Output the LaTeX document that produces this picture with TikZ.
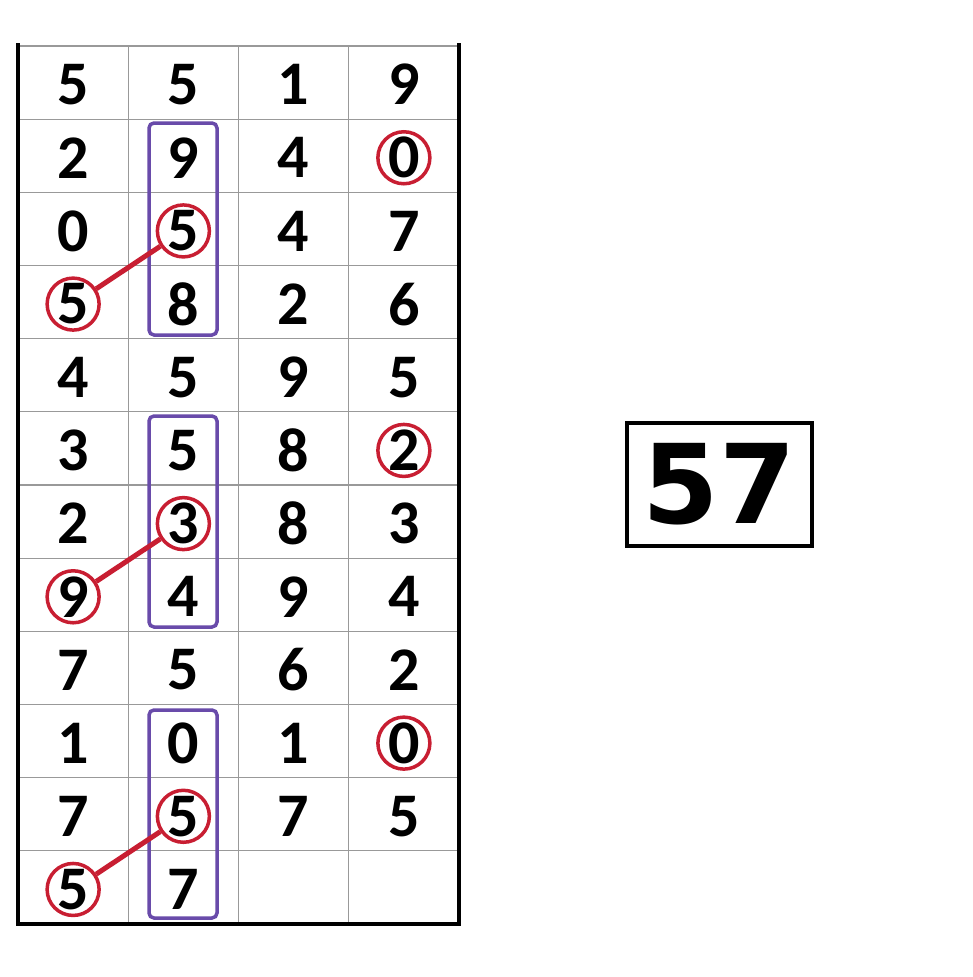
\documentclass[tikz,border=0pt]{standalone}
\usepackage{fontspec}
\setmainfont{Carlito}
\newfontfamily\answerfont{DejaVu Sans}
\usepackage{tikz}
\usepackage{xcolor}
\definecolor{ringred}{RGB}{200,30,50}
\definecolor{boxpurple}{RGB}{105,75,170}

\begin{document}
\begin{tikzpicture}[x=1pt,y=-1pt,
  digit/.style={font=\fontsize{62}{62}\selectfont\bfseries, inner sep=0pt},
  ring/.style={circle, draw=ringred, line width=3.5pt, minimum size=52pt, inner sep=0pt},
  link/.style={draw=ringred, line width=5pt},
  group/.style={draw=boxpurple, line width=3.5pt, rounded corners=5pt},
  answer/.style={draw, line width=3.5pt, minimum width=185pt, minimum height=123pt,
    font=\answerfont\fontsize{110}{110}\selectfont\bfseries}]
\useasboundingbox[fill=white] (0,0) rectangle (973,977);

% grid
\foreach \r in {0,...,11}
  \draw [gray!80, line width=1.2pt] (18,{46+73.17*\r}) -- (459,{46+73.17*\r});
\foreach \c in {1,2,3}
  \draw [gray!80, line width=1.2pt] ({18+110.25*\c},46) -- ({18+110.25*\c},924);
\draw [line width=3.5pt] (18,43) -- (18,924) -- (459,924) -- (459,43);

% digits, row by row
\foreach \d [count=\i from 0] in {5,5,1,9, 2,9,4,0, 0,5,4,7, 5,8,2,6,
    4,5,9,5, 3,5,8,2, 2,3,8,3, 9,4,9,4, 7,5,6,2, 1,0,1,0, 7,5,7,5, 5,7}
{
  \pgfmathtruncatemacro{\r}{int(\i/4)+1}
  \pgfmathtruncatemacro{\c}{mod(\i,4)+1}
  \node [digit] (n-\r-\c) at ({18+110.25*(\c-0.5)},{48+73.17*(\r-0.5)}) {\d};
}

% purple groups
\draw [group] (149,123) rectangle (217,335);
\draw [group] (149,416) rectangle (217,627);
\draw [group] (149,710) rectangle (217,918);

% red rings
\foreach \r/\c in {2/4,3/2,4/1,6/4,7/2,8/1,10/4,11/2,12/1}
  \node [ring] (ring-\r-\c) at (n-\r-\c) {};
\draw [link] (ring-4-1) -- (ring-3-2);
\draw [link] (ring-8-1) -- (ring-7-2);
\draw [link] (ring-12-1) -- (ring-11-2);

% answer
\node [answer] (result) at (719.5,484.5) {57};
\end{tikzpicture}
\end{document}
